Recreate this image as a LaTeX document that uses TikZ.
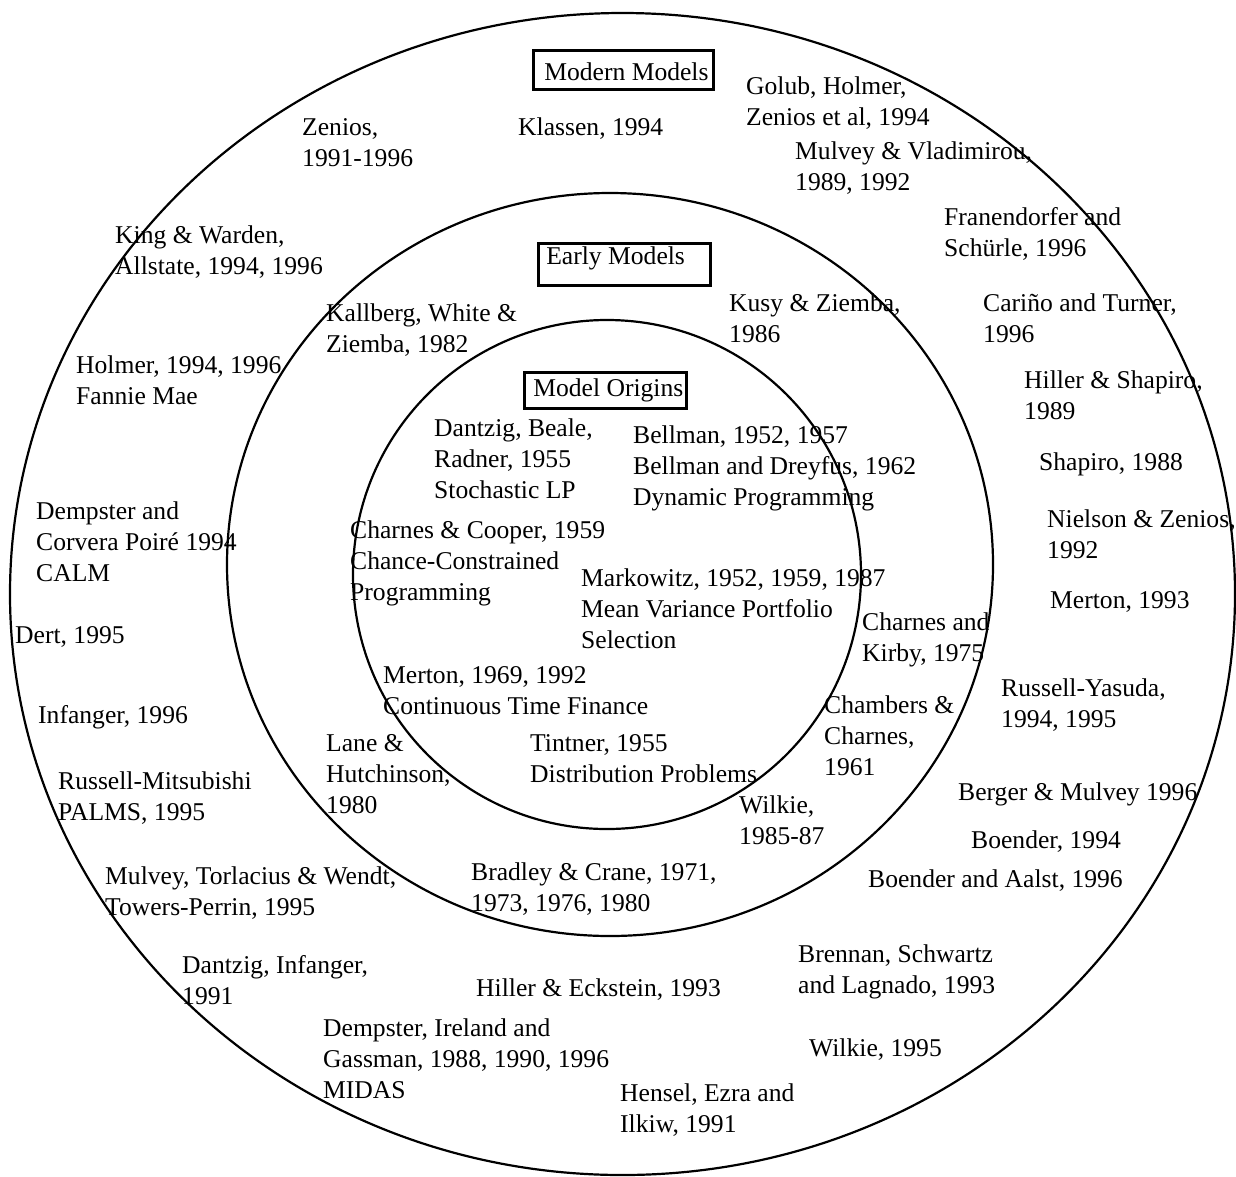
\documentclass[tikz,border=0pt]{standalone}
\usepackage{fontspec}
\setmainfont{Liberation Serif}
\usepackage{tikz}
\tikzset{
    anel/.style   = {line width=2.2pt},
    cab/.style    = {draw, line width=2.6pt, anchor=north west, inner ysep=0pt},
    ref/.style    = {anchor=base west, inner sep=0pt, align=left},
}

\begin{document}
\begin{tikzpicture}[x=1pt, y=-1pt, font=\fontsize{25.6}{31}\selectfont]
    \useasboundingbox (0,0) rectangle (1236,1176);
    \draw[anel] (622.5,594) ellipse [x radius=612.5pt, y radius=581pt];
    \draw[anel] (610,564.5) ellipse [x radius=383pt, y radius=371.5pt];
    \draw[anel] (607,574.5) ellipse [x radius=254pt, y radius=254.5pt];
    % titulos dos aneis
    \node[cab, inner xsep=11pt, text height=30pt, text depth=9pt] (modern) at (532,49)
        {\makebox[158pt][l]{Modern Models}};
    \node[cab, inner xsep=8pt, text height=21pt, text depth=21pt] (early) at (537,242)
        {\makebox[156pt][l]{Early Models}};
    \node[cab, inner xsep=9pt, text height=24pt, text depth=12pt] (origins) at (523,371)
        {\makebox[144pt][l]{Model Origins}};
    % referencias (base = ultima linha)
    \node[ref] (zenios)    at (302,166)  {Zenios,\\1991-1996};
    \node[ref] (klassen)   at (518,135)  {Klassen, 1994};
    \node[ref] (golub)     at (746,125)  {Golub, Holmer,\\Zenios et al, 1994};
    \node[ref] (mulveyv)   at (795,190)  {Mulvey \& Vladimirou,\\1989, 1992};
    \node[ref] (franend)   at (944,256)  {Franendorfer and\\Schürle, 1996};
    \node[ref] (king)      at (115,274)  {King \& Warden,\\Allstate, 1994, 1996};
    \node[ref] (kallberg)  at (326,352)  {Kallberg, White \&\\Ziemba, 1982};
    \node[ref] (kusy)      at (729,342)  {Kusy \& Ziemba,\\1986};
    \node[ref] (carino)    at (983,342)  {Cariño and Turner,\\1996};
    \node[ref] (holmer)    at (76,404)   {Holmer, 1994, 1996\\Fannie Mae};
    \node[ref] (hillersh)  at (1024,419) {Hiller \& Shapiro,\\1989};
    \node[ref] (dantzigb)  at (434,498)  {Dantzig, Beale,\\Radner, 1955\\Stochastic LP};
    \node[ref] (bellman)   at (633,505)  {Bellman, 1952, 1957\\Bellman and Dreyfus, 1962\\Dynamic Programming};
    \node[ref] (shapiro)   at (1039,470) {Shapiro, 1988};
    \node[ref] (dempcalm)  at (36,581)   {Dempster and\\Corvera Poiré 1994\\CALM};
    \node[ref] (nielson)   at (1047,558) {Nielson \& Zenios,\\1992};
    \node[ref] (charnesc)  at (350,600)  {Charnes \& Cooper, 1959\\Chance-Constrained\\Programming};
    \node[ref] (markowitz) at (581,648)  {Markowitz, 1952, 1959, 1987\\Mean Variance Portfolio\\Selection};
    \node[ref] (merton93)  at (1050,608) {Merton, 1993};
    \node[ref] (charnesk)  at (862,661)  {Charnes and\\Kirby, 1975};
    \node[ref] (dert)      at (15,643)   {Dert, 1995};
    \node[ref] (merton69)  at (383,714)  {Merton, 1969, 1992\\Continuous Time Finance};
    \node[ref] (yasuda)    at (1001,727) {Russell-Yasuda,\\1994, 1995};
    \node[ref] (chambers)  at (824,775)  {Chambers \&\\Charnes,\\1961};
    \node[ref] (infanger)  at (38,723)   {Infanger, 1996};
    \node[ref] (lane)      at (326,813)  {Lane \&\\Hutchinson,\\1980};
    \node[ref] (tintner)   at (530,782)  {Tintner, 1955\\Distribution Problems};
    \node[ref] (mitsu)     at (58,820)   {Russell-Mitsubishi\\PALMS, 1995};
    \node[ref] (berger)    at (958,800)  {Berger \& Mulvey 1996};
    \node[ref] (wilkie85)  at (739,844)  {Wilkie,\\1985-87};
    \node[ref] (boender)   at (971,848)  {Boender, 1994};
    \node[ref] (bradley)   at (471,911)  {Bradley \& Crane, 1971,\\1973, 1976, 1980};
    \node[ref] (mulveyt)   at (105,915)  {Mulvey, Torlacius \& Wendt,\\Towers-Perrin, 1995};
    \node[ref] (aalst)     at (868,887)  {Boender and Aalst, 1996};
    \node[ref] (brennan)   at (798,993)  {Brennan, Schwartz\\and Lagnado, 1993};
    \node[ref] (dantzigi)  at (182,1004) {Dantzig, Infanger,\\1991};
    \node[ref] (hillerek)  at (476,996)  {Hiller \& Eckstein, 1993};
    \node[ref] (midas)     at (323,1098) {Dempster, Ireland and\\Gassman, 1988, 1990, 1996\\MIDAS};
    \node[ref] (wilkie95)  at (809,1056) {Wilkie, 1995};
    \node[ref] (hensel)    at (620,1132) {Hensel, Ezra and\\Ilkiw, 1991};
\end{tikzpicture}
\end{document}
